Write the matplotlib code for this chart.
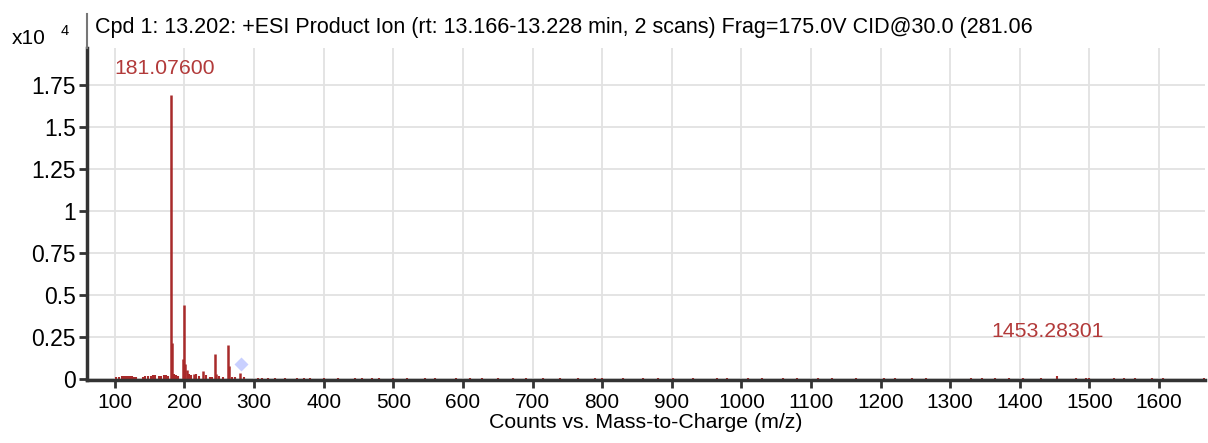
import matplotlib
matplotlib.use('Agg')
import matplotlib.pyplot as plt
from matplotlib.lines import Line2D

plt.rcParams['font.family'] = ['Liberation Sans', 'DejaVu Sans']

# main peaks (m/z, counts x10^4)
peak_mz = [181.08, 182.5, 197.5, 199.0, 201.0, 203.0, 213.0, 227.0, 244.0, 246.0, 262.0, 264.0, 279.5]
peak_h = [1.69, 0.21, 0.12, 0.44, 0.088, 0.05, 0.03, 0.045, 0.145, 0.03, 0.20, 0.073, 0.035]

# low level peaks / noise
noise_mz = [102, 106, 110, 113, 116, 119, 122, 125, 128, 131, 140, 144, 148, 152, 155, 158, 163, 167, 171, 174, 177,
            185, 188, 191, 206, 209, 217, 221, 231, 236, 240, 250, 255, 268, 272, 285,
            305, 312, 320, 330, 345, 362, 372, 380, 400, 420, 445, 455, 470, 480, 500, 520, 545, 560, 590,
            610, 628, 650, 672, 690, 715, 740, 765, 790, 800, 830, 858, 880, 902, 930, 965, 980, 1010, 1030,
            1060, 1080, 1110, 1130, 1165, 1205, 1220, 1245, 1265, 1330, 1345, 1365, 1385, 1405, 1430, 1453.28,
            1480, 1495, 1500, 1535, 1550, 1565, 1590, 1605, 1665]
noise_h = [0.01, 0.012, 0.015, 0.014, 0.015, 0.016, 0.015, 0.014, 0.012, 0.01, 0.012, 0.014, 0.016, 0.018, 0.022, 0.02,
           0.015, 0.018, 0.02, 0.022, 0.018,
           0.03, 0.02, 0.015, 0.03, 0.02, 0.025, 0.015, 0.02, 0.012, 0.01, 0.015, 0.012, 0.012, 0.01, 0.01,
           0.006, 0.005, 0.006, 0.004, 0.005, 0.006, 0.004, 0.005, 0.004, 0.005, 0.004, 0.006, 0.004, 0.005,
           0.005, 0.004, 0.005, 0.004, 0.005,
           0.005, 0.004, 0.006, 0.004, 0.005, 0.004, 0.005, 0.004, 0.005, 0.006, 0.004, 0.005, 0.004, 0.005,
           0.004, 0.005, 0.004, 0.005, 0.004,
           0.005, 0.004, 0.005, 0.004, 0.005, 0.004, 0.005, 0.004, 0.005, 0.005, 0.004, 0.006, 0.004, 0.005,
           0.004, 0.018, 0.005, 0.006, 0.006, 0.004, 0.005, 0.004, 0.005, 0.006, 0.005]

precursor_mz = 281.06
precursor_h = 0.09

labels = [('181.07600', 172, 1.85), ('1453.28301', 1440, 0.28)]
title = 'Cpd 1: 13.202: +ESI Product Ion (rt: 13.166-13.228 min, 2 scans) Frag=175.0V CID@30.0 (281.06'

fig = plt.figure(figsize=(12.08, 4.43), dpi=100)
ax = fig.add_axes([87/1208, 1-380/443, 1118/1208, 332/443])

peak_color = '#a82a2a'
ax.vlines(noise_mz, 0, noise_h, color=peak_color, lw=1.5)
ax.vlines(peak_mz, 0, peak_h, color=peak_color, lw=1.8)
ax.plot([precursor_mz], [precursor_h], marker='D', ms=7, color='#c9d0ff', mec='none', ls='none')

for txt, x, y in labels:
    ax.text(x, y, txt, color='#b23a3a', fontsize=15.3, ha='center', va='center')

ax.set_xlim(60, 1666)
ax.set_ylim(-0.008, 1.97)
ax.set_xticks(range(100, 1700, 100))
ax.set_yticks([0, 0.25, 0.5, 0.75, 1, 1.25, 1.5, 1.75])
ax.set_yticklabels(['0', '0.25', '0.5', '0.75', '1', '1.25', '1.5', '1.75'])
ax.grid(True, color='#e2e2e2', lw=1.3)
ax.set_axisbelow(True)
for s in ['top', 'right']:
    ax.spines[s].set_visible(False)
for s in ['left', 'bottom']:
    ax.spines[s].set_linewidth(2.5)
    ax.spines[s].set_color('#333333')
ax.tick_params(axis='both', direction='out', length=6, width=2, color='#333333', pad=3)
ax.tick_params(axis='x', labelsize=15)
ax.tick_params(axis='y', labelsize=16.5, pad=2)
ax.set_xlabel('Counts vs. Mass-to-Charge (m/z)', fontsize=15.3, labelpad=1)

fig.add_artist(Line2D([87/1208, 87/1208], [1-48/443, 1-14/443], color='#777777', lw=1.5))
fig.text(95/1208, 1-28/443, title, fontsize=15.5, va='center', ha='left')
fig.text(12/1208, 1-38/443, 'x10', fontsize=15, va='center', ha='left')
fig.text(61/1208, 1-31/443, '4', fontsize=10.5, va='center', ha='left')

fig.savefig('out.png', dpi=100)
